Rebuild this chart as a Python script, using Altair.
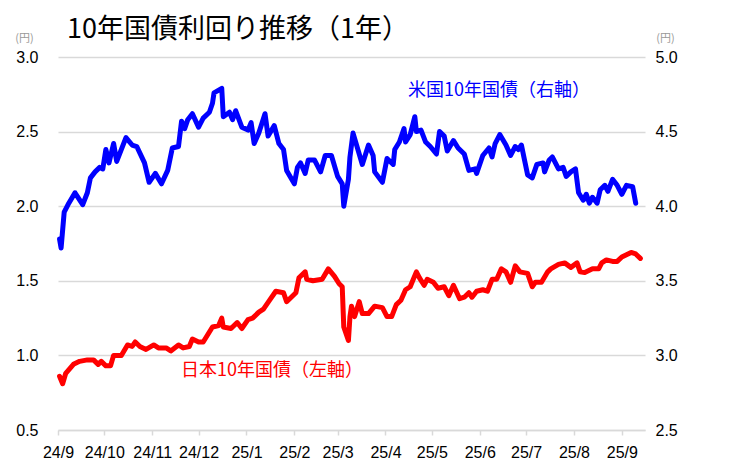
import altair as alt
import pandas as pd

# ---- data ----
us_dates = [
    "2024-09-02", "2024-09-03", "2024-09-05", "2024-09-08", "2024-09-12", "2024-09-17", "2024-09-20",
    "2024-09-22", "2024-09-25", "2024-09-28", "2024-09-30", "2024-10-02", "2024-10-04", "2024-10-07",
    "2024-10-09", "2024-10-15", "2024-10-19", "2024-10-22", "2024-10-27", "2024-10-30", "2024-11-03",
    "2024-11-07", "2024-11-11", "2024-11-14", "2024-11-18", "2024-11-20", "2024-11-22", "2024-11-24",
    "2024-11-27", "2024-12-01", "2024-12-04", "2024-12-08", "2024-12-10", "2024-12-11", "2024-12-16",
    "2024-12-17", "2024-12-21", "2024-12-23", "2024-12-25", "2024-12-29", "2025-01-02", "2025-01-04",
    "2025-01-06", "2025-01-09", "2025-01-13", "2025-01-15", "2025-01-19", "2025-01-22", "2025-01-25",
    "2025-01-27", "2025-02-01", "2025-02-03", "2025-02-05", "2025-02-08", "2025-02-10", "2025-02-14",
    "2025-02-18", "2025-02-21", "2025-02-25", "2025-03-01", "2025-03-04", "2025-03-05", "2025-03-08",
    "2025-03-09", "2025-03-11", "2025-03-17", "2025-03-21", "2025-03-24", "2025-03-25", "2025-03-30",
    "2025-04-02", "2025-04-06", "2025-04-07", "2025-04-10", "2025-04-13", "2025-04-14", "2025-04-17",
    "2025-04-20", "2025-04-21", "2025-04-24", "2025-04-27", "2025-04-30", "2025-05-04", "2025-05-06",
    "2025-05-09", "2025-05-11", "2025-05-15", "2025-05-18", "2025-05-22", "2025-05-25", "2025-05-29",
    "2025-05-30", "2025-06-03", "2025-06-07", "2025-06-09", "2025-06-11", "2025-06-14", "2025-06-18",
    "2025-06-21", "2025-06-24", "2025-06-26", "2025-06-28", "2025-06-30", "2025-07-02", "2025-07-05",
    "2025-07-08", "2025-07-12", "2025-07-13", "2025-07-16", "2025-07-18", "2025-07-22", "2025-07-25",
    "2025-07-27", "2025-07-30", "2025-08-02", "2025-08-04", "2025-08-07", "2025-08-09", "2025-08-11",
    "2025-08-13", "2025-08-16", "2025-08-18", "2025-08-21", "2025-08-23", "2025-08-26", "2025-08-29",
    "2025-09-01", "2025-09-04", "2025-09-08", "2025-09-10",
]
us_values = [
    3.78, 3.72, 3.96, 4.02, 4.09, 4.01, 4.09, 4.19, 4.23, 4.26, 4.25, 4.38, 4.29, 4.42,
    4.30, 4.46, 4.41, 4.40, 4.29, 4.16, 4.22, 4.15, 4.24, 4.39, 4.40, 4.57, 4.52, 4.58,
    4.62, 4.53, 4.59, 4.63, 4.69, 4.76, 4.79, 4.60, 4.63, 4.58, 4.64, 4.53, 4.51, 4.56,
    4.42, 4.49, 4.62, 4.47, 4.54, 4.42, 4.38, 4.24, 4.15, 4.26, 4.29, 4.22, 4.31, 4.31,
    4.23, 4.34, 4.34, 4.20, 4.15, 4.00, 4.18, 4.33, 4.49, 4.28, 4.41, 4.34, 4.23, 4.16,
    4.32, 4.28, 4.38, 4.43, 4.52, 4.43, 4.48, 4.60, 4.50, 4.51, 4.43, 4.40, 4.35, 4.50,
    4.47, 4.37, 4.44, 4.39, 4.35, 4.24, 4.25, 4.22, 4.34, 4.39, 4.33, 4.42, 4.48, 4.41,
    4.34, 4.40, 4.38, 4.41, 4.31, 4.21, 4.19, 4.28, 4.29, 4.23, 4.31, 4.33, 4.25, 4.26,
    4.20, 4.23, 4.25, 4.09, 4.04, 4.08, 4.02, 4.06, 4.02, 4.11, 4.14, 4.10, 4.18, 4.14,
    4.08, 4.14, 4.13, 4.02,
]

jp_dates = [
    "2024-09-02", "2024-09-04", "2024-09-06", "2024-09-11", "2024-09-15", "2024-09-20", "2024-09-24",
    "2024-09-27", "2024-09-29", "2024-10-02", "2024-10-05", "2024-10-07", "2024-10-12", "2024-10-16",
    "2024-10-19", "2024-10-21", "2024-10-24", "2024-10-28", "2024-11-02", "2024-11-05", "2024-11-10",
    "2024-11-13", "2024-11-18", "2024-11-21", "2024-11-25", "2024-11-27", "2024-12-01", "2024-12-04",
    "2024-12-07", "2024-12-10", "2024-12-14", "2024-12-16", "2024-12-17", "2024-12-22", "2024-12-26",
    "2024-12-29", "2025-01-02", "2025-01-05", "2025-01-09", "2025-01-12", "2025-01-16", "2025-01-20",
    "2025-01-25", "2025-01-27", "2025-02-02", "2025-02-04", "2025-02-08", "2025-02-09", "2025-02-13",
    "2025-02-19", "2025-02-23", "2025-02-27", "2025-03-02", "2025-03-04", "2025-03-05", "2025-03-08",
    "2025-03-09", "2025-03-10", "2025-03-12", "2025-03-15", "2025-03-17", "2025-03-21", "2025-03-25",
    "2025-03-30", "2025-04-02", "2025-04-05", "2025-04-08", "2025-04-11", "2025-04-14", "2025-04-17",
    "2025-04-21", "2025-04-23", "2025-04-26", "2025-04-28", "2025-05-02", "2025-05-05", "2025-05-09",
    "2025-05-12", "2025-05-15", "2025-05-19", "2025-05-22", "2025-05-25", "2025-05-27", "2025-05-30",
    "2025-06-03", "2025-06-06", "2025-06-09", "2025-06-12", "2025-06-15", "2025-06-18", "2025-06-21",
    "2025-06-24", "2025-06-27", "2025-07-02", "2025-07-05", "2025-07-07", "2025-07-11", "2025-07-15",
    "2025-07-17", "2025-07-22", "2025-07-26", "2025-07-30", "2025-08-03", "2025-08-05", "2025-08-08",
    "2025-08-13", "2025-08-17", "2025-08-19", "2025-08-22", "2025-08-26", "2025-08-29", "2025-09-01",
    "2025-09-07", "2025-09-10", "2025-09-13",
]
jp_values = [
    0.86, 0.81, 0.88, 0.94, 0.96, 0.97, 0.97, 0.94, 0.96, 0.93, 0.93, 1.00, 1.00, 1.07,
    1.06, 1.09, 1.06, 1.04, 1.07, 1.05, 1.05, 1.03, 1.07, 1.05, 1.06, 1.11, 1.09, 1.09,
    1.14, 1.19, 1.20, 1.25, 1.19, 1.18, 1.22, 1.18, 1.24, 1.25, 1.29, 1.31, 1.37, 1.43,
    1.42, 1.36, 1.42, 1.52, 1.56, 1.51, 1.50, 1.51, 1.58, 1.53, 1.48, 1.46, 1.19, 1.10,
    1.26, 1.33, 1.26, 1.36, 1.28, 1.28, 1.33, 1.32, 1.26, 1.26, 1.34, 1.37, 1.44, 1.46,
    1.56, 1.52, 1.47, 1.51, 1.49, 1.45, 1.46, 1.40, 1.47, 1.38, 1.39, 1.42, 1.39, 1.43,
    1.44, 1.43, 1.51, 1.51, 1.58, 1.56, 1.49, 1.60, 1.56, 1.55, 1.46, 1.49, 1.49, 1.56,
    1.58, 1.61, 1.62, 1.59, 1.62, 1.56, 1.555, 1.58, 1.58, 1.62, 1.64, 1.63, 1.63, 1.66,
    1.69, 1.68, 1.65,
]

left_ticks = [0.5, 1.0, 1.5, 2.0, 2.5, 3.0]
right_ticks = [2.5, 3.0, 3.5, 4.0, 4.5, 5.0]
month_ticks = [(2024, m) for m in range(9, 13)] + [(2025, m) for m in range(1, 10)]

title_text = "10年国債利回り推移（1年）"
us_label = ["米国10年国債（右軸）"]
jp_label = ["日本10年国債（左軸）"]
unit_label = "(円)"

us_df = pd.DataFrame({"date": us_dates, "value": us_values})
jp_df = pd.DataFrame({"date": jp_dates, "value": jp_values})

LABEL_FONT = "Liberation Sans"
CJK_FONT = "Noto Sans CJK JP"
GRID = "#d9d9d9"

x_enc = alt.X(
    "date:T",
    scale=alt.Scale(
        domain=[alt.DateTime(year=2024, month=9, date=1),
                alt.DateTime(year=2025, month=9, date=16)],
    ),
    axis=alt.Axis(
        values=[alt.DateTime(year=y, month=m, date=1) for y, m in month_ticks],
        format="%y/%-m",
        labelExpr="timeFormat(datum.value, '%y/%-m')",
        title=None, grid=False,
        domain=True, domainColor=GRID, domainWidth=1.5,
        ticks=True, tickColor=GRID, tickWidth=1.5, tickSize=5,
        labelFont=LABEL_FONT, labelFontSize=16, labelColor="black", labelPadding=9,
        labelOverlap=False, labelFlush=False, labelAlign="center",
    ),
)

jp_line = alt.Chart(jp_df).mark_line(
    color="#ff0000", strokeWidth=5, strokeJoin="round", strokeCap="round"
).encode(
    x=x_enc,
    y=alt.Y(
        "value:Q",
        scale=alt.Scale(domain=[0.5, 3.0], nice=False, zero=False),
        axis=alt.Axis(
            orient="left", values=left_ticks, format=".1f",
            domain=False, ticks=False, grid=True, gridColor=GRID, gridWidth=1.5,
            labelFont=LABEL_FONT, labelFontSize=16, labelColor="black", labelPadding=20,
            title=unit_label, titleAngle=0, titleX=-34, titleY=-19,
            titleAlign="center", titleBaseline="middle",
            titleFont=CJK_FONT, titleFontSize=11, titleFontWeight="normal", titleColor="#999999",
        ),
    ),
)

us_line = alt.Chart(us_df).mark_line(
    color="#0000ff", strokeWidth=5, strokeJoin="round", strokeCap="round"
).encode(
    x=x_enc,
    y=alt.Y(
        "value:Q",
        scale=alt.Scale(domain=[2.5, 5.0], nice=False, zero=False),
        axis=alt.Axis(
            orient="right", values=right_ticks, format=".1f",
            domain=False, ticks=False, grid=False,
            labelFont=LABEL_FONT, labelFontSize=16, labelColor="black", labelPadding=10,
            title=unit_label, titleAngle=0, titleX=20, titleY=-19,
            titleAlign="center", titleBaseline="middle",
            titleFont=CJK_FONT, titleFontSize=11, titleFontWeight="normal", titleColor="#999999",
        ),
    ),
)

us_text = alt.Chart(pd.DataFrame({"t": us_label})).mark_text(
    font=CJK_FONT, fontSize=18, color="#0000ff", align="left", baseline="middle"
).encode(text="t:N", x=alt.value(350), y=alt.value(34))

jp_text = alt.Chart(pd.DataFrame({"t": jp_label})).mark_text(
    font=CJK_FONT, fontSize=18, color="#ff0000", align="left", baseline="middle"
).encode(text="t:N", x=alt.value(123), y=alt.value(314))

chart = alt.layer(jp_line, us_line, jp_text, us_text).resolve_scale(
    y="independent"
).properties(
    width=587,
    height=373,
    autosize="none",
    padding={"left": 50, "top": 49, "right": 60, "bottom": 30},
    title=alt.TitleParams(
        title_text, anchor="start", frame="group", dx=9, dy=12, offset=0,
        font=CJK_FONT, fontSize=27, fontWeight="normal", color="black",
    ),
).configure_view(stroke=None)

chart.save("out.html", embed_options={"renderer": "svg", "actions": False})
